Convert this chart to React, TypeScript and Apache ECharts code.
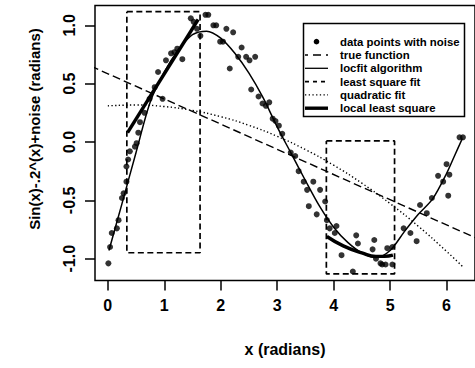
import React, { useEffect, useRef } from "react";
import * as echarts from "echarts";

// ---- data ----
const pointsX = [
  0.01, 0.04, 0.07, 0.16, 0.19, 0.25, 0.28, 0.33, 0.33, 0.36, 0.39, 0.48, 0.51, 0.54, 0.57, 0.65, 0.74, 0.83, 0.89, 0.97,
  1.03, 1.12, 1.18, 1.23, 1.32, 1.47, 1.52, 1.58, 1.64, 1.73, 1.78, 1.87, 1.92, 1.99, 2.04, 2.10, 2.22, 2.16, 2.37, 2.31,
  2.45, 2.51, 2.61, 2.54, 2.67, 2.74, 2.80, 2.86, 2.92, 2.97, 3.03, 3.09, 3.24, 3.32, 3.38, 3.47, 3.64, 3.53, 3.76, 3.85,
  3.56, 3.70, 3.88, 3.93, 4.05, 4.02, 4.40, 4.43, 4.14, 4.69, 4.75, 4.86, 4.34, 4.72, 4.83, 4.92, 5.04, 4.95, 5.04, 5.24,
  5.36, 5.47, 5.53, 5.65, 5.74, 5.85, 5.94, 6.03, 6.00, 6.05, 6.23, 6.29,
];
const pointsY = [
  -1.04, -0.90, -0.78, -0.74, -0.67, -0.48, -0.44, -0.34, -0.21, -0.15, -0.08, -0.04, -0.01, 0.08, 0.17, 0.25, 0.37, 0.47, 0.60, 0.37,
  0.70, 0.76, 0.77, 0.80, 0.71, 1.06, 1.03, 0.97, 0.91, 1.09, 1.09, 1.00, 1.00, 0.86, 0.86, 0.97, 0.94, 0.63, 0.81, 0.73,
  0.73, 0.70, 0.73, 0.45, 0.39, 0.33, 0.31, 0.34, 0.20, 0.18, 0.14, 0.07, -0.09, -0.12, -0.25, -0.34, -0.34, -0.41, -0.41, -0.51,
  -0.55, -0.62, -0.67, -0.74, -0.72, -0.78, -0.80, -0.87, -0.97, -0.92, -1.00, -1.05, -1.11, -0.84, -1.04, -1.05, -1.05, -0.91, -0.90, -0.74,
  -0.78, -0.85, -0.54, -0.61, -0.48, -0.29, -0.34, -0.46, -0.19, -0.28, 0.04, 0.04,
];

const locfitX = [0.02, 0.25, 0.5, 0.75, 1.0, 1.25, 1.5, 1.75, 2.0, 2.25, 2.5, 2.75, 3.0, 3.25, 3.5, 3.75, 4.0, 4.25, 4.5, 4.75, 5.0, 5.25, 5.5, 5.75, 6.0, 6.14, 6.28];
const locfitY = [-0.93, -0.53, -0.09, 0.34, 0.60, 0.79, 0.92, 0.95, 0.89, 0.76, 0.59, 0.38, 0.13, -0.10, -0.33, -0.55, -0.73, -0.86, -0.95, -0.99, -0.93, -0.77, -0.62, -0.49, -0.27, -0.12, 0.03];

const lsqX = [-0.3, 6.6];
const lsqY = [0.65, -0.84];

const quadX = [0, 0.5, 1.0, 1.5, 2.0, 2.5, 3.0, 3.5, 4.0, 4.5, 5.0, 5.5, 6.0, 6.28];
const quadY = [0.31, 0.317, 0.304, 0.27, 0.217, 0.143, 0.049, -0.065, -0.199, -0.353, -0.528, -0.722, -0.937, -1.065];

const local1X = [0.35, 1.6];
const local1Y = [0.08, 1.05];
const local2X = [3.88, 4.17, 4.5, 4.75, 4.9, 5.05];
const local2Y = [-0.81, -0.89, -0.95, -0.98, -0.98, -0.97];

const rect1X = [0.337, 1.634, 1.634, 0.337, 0.337];
const rect1Y = [1.117, 1.117, -0.949, -0.949, 1.117];
const rect2X = [3.871, 5.079, 5.079, 3.871, 3.871];
const rect2Y = [0.009, 0.009, -1.131, -1.131, 0.009];

const xTicks = [0, 1, 2, 3, 4, 5, 6];
const yTicks = [-1, -0.5, 0, 0.5, 1];

const legendLabels = [
  "data points with noise",
  "true function",
  "locfit algorithm",
  "least square fit",
  "quadratic fit",
  "local least square",
];

const zip = (xs: number[], ys: number[]) => xs.map((x, i) => [x, ys[i]]);

const FONT = "'Liberation Sans', Arial, Helvetica, sans-serif";

export default function App() {
  const ref = useRef<HTMLDivElement>(null);

  useEffect(() => {
    if (!ref.current) return;
    const chart = echarts.init(ref.current, undefined, { renderer: "svg" });

    const lx0 = 305;
    const lx1 = 328;
    const ly0 = 41.7;
    const lstep = 13.3;
    const lyAt = (i: number) => ly0 + lstep * i;

    const legendGraphics: any[] = [
      {
        type: "rect",
        z: 100,
        shape: { x: 303.5, y: 23.5, width: 161, height: 93 },
        style: { fill: "#fff", stroke: "#000", lineWidth: 1.5 },
      },
      {
        type: "circle",
        z: 101,
        shape: { cx: 316.5, cy: lyAt(0), r: 2.8 },
        style: { fill: "#000" },
      },
      {
        type: "line",
        z: 101,
        shape: { x1: lx0, y1: lyAt(1), x2: lx1, y2: lyAt(1) },
        style: { stroke: "#000", lineWidth: 1.6, lineDash: [8, 5], lineDashOffset: 5 },
      },
      {
        type: "line",
        z: 101,
        shape: { x1: lx0, y1: lyAt(2), x2: lx1, y2: lyAt(2) },
        style: { stroke: "#000", lineWidth: 1.3 },
      },
      {
        type: "line",
        z: 101,
        shape: { x1: lx0, y1: lyAt(3), x2: lx1, y2: lyAt(3) },
        style: { stroke: "#000", lineWidth: 1.6, lineDash: [4, 4] },
      },
      {
        type: "line",
        z: 101,
        shape: { x1: lx0, y1: lyAt(4), x2: lx1, y2: lyAt(4) },
        style: { stroke: "#000", lineWidth: 1.3, lineDash: [1.3, 2.4] },
      },
      {
        type: "line",
        z: 101,
        shape: { x1: lx0, y1: lyAt(5), x2: lx1, y2: lyAt(5) },
        style: { stroke: "#000", lineWidth: 3.4 },
      },
      ...legendLabels.map((t, i) => ({
        type: "text",
        z: 101,
        x: 340,
        y: lyAt(i),
        style: {
          text: t,
          fill: "#000",
          font: `bold 11.4px ${FONT}`,
          verticalAlign: "middle",
          align: "left",
        },
      })),
    ];

    const lineBase = {
      type: "line",
      symbol: "none",
      clip: true,
      silent: true,
    };

    chart.setOption({
      animation: false,
      backgroundColor: "#fff",
      textStyle: { fontFamily: FONT },
      grid: {
        left: 95,
        top: 5.5,
        right: -6,
        bottom: 87.5,
        show: true,
        borderColor: "#000",
        borderWidth: 1.5,
        backgroundColor: "transparent",
      },
      xAxis: {
        type: "value",
        min: -0.227,
        max: 6.504,
        name: "x (radians)",
        nameLocation: "middle",
        nameGap: 61,
        nameTextStyle: { fontSize: 16, fontWeight: "bold", color: "#000", fontFamily: FONT },
        axisLine: { show: false, onZero: false },
        axisTick: {
          show: true,
          length: 10,
          customValues: xTicks,
          lineStyle: { color: "#000", width: 1.5 },
        },
        axisLabel: {
          show: true,
          customValues: xTicks,
          margin: 17,
          fontSize: 16,
          fontWeight: "bold",
          color: "#000",
          fontFamily: FONT,
        },
        splitLine: { show: false },
      },
      yAxis: {
        type: "value",
        min: -1.187,
        max: 1.17,
        name: "Sin(x)-.2^(x)+noise (radians)",
        nameLocation: "middle",
        nameGap: 53,
        nameTextStyle: {
          fontSize: 15,
          fontWeight: "bold",
          color: "#000",
          fontFamily: FONT,
          padding: [0, 0, 0, 28],
        },
        axisLine: { show: false, onZero: false },
        axisTick: {
          show: true,
          length: 10,
          customValues: yTicks,
          lineStyle: { color: "#000", width: 1.5 },
        },
        axisLabel: {
          show: true,
          customValues: yTicks,
          rotate: 90,
          margin: 17.5,
          fontSize: 16,
          fontWeight: "bold",
          color: "#000",
          fontFamily: FONT,
          formatter: (v: number) => v.toFixed(1),
        },
        splitLine: { show: false },
      },
      series: [
        {
          ...lineBase,
          name: "box 1",
          data: zip(rect1X, rect1Y),
          lineStyle: { color: "#000", width: 1.7, type: [6, 3.5] },
        },
        {
          ...lineBase,
          name: "box 2",
          data: zip(rect2X, rect2Y),
          lineStyle: { color: "#000", width: 1.7, type: [6, 3.5] },
        },
        {
          ...lineBase,
          name: "least square fit",
          data: zip(lsqX, lsqY),
          lineStyle: { color: "#000", width: 1.4, type: [8, 4] },
        },
        {
          ...lineBase,
          name: "quadratic fit",
          smooth: true,
          data: zip(quadX, quadY),
          lineStyle: { color: "#000", width: 1.4, type: [1.3, 2.4] },
        },
        {
          ...lineBase,
          name: "locfit algorithm",
          smooth: 0.3,
          data: zip(locfitX, locfitY),
          lineStyle: { color: "#000", width: 1.5 },
        },
        {
          ...lineBase,
          name: "local least square",
          data: zip(local1X, local1Y),
          lineStyle: { color: "#000", width: 3.4 },
        },
        {
          ...lineBase,
          name: "local least square",
          smooth: true,
          data: zip(local2X, local2Y),
          lineStyle: { color: "#000", width: 3.4 },
        },
        {
          type: "scatter",
          name: "data points with noise",
          data: zip(pointsX, pointsY),
          symbol: "circle",
          symbolSize: 6,
          itemStyle: { color: "#000" },
          silent: true,
        },
      ],
      graphic: legendGraphics,
    });

    return () => chart.dispose();
  }, []);

  return (
    <div
      ref={ref}
      style={{ position: "fixed", left: 0, top: 0, width: 475, height: 368 }}
    />
  );
}
